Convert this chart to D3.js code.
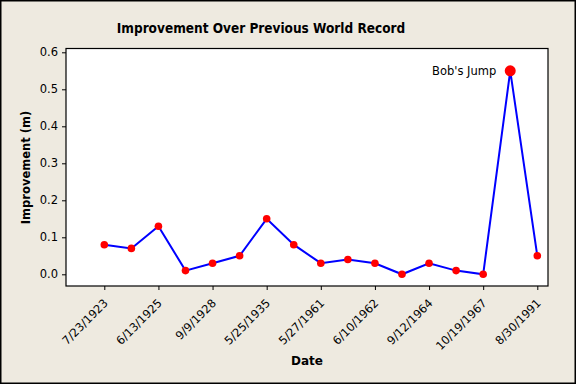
<!DOCTYPE html>
<html>
<head>
<meta charset="utf-8">
<script src="https://cdn.jsdelivr.net/npm/d3@7"></script>
<style>
body { margin: 0; background: #eeeae0; }
svg { display: block; }
</style>
</head>
<body>
<div id="chart"></div>
<script>
var width = 576
var height = 384

// data
var dates = ["7/23/1923","","6/13/1925","","9/9/1928","","5/25/1935","","5/27/1961","",
             "6/10/1962","","9/12/1964","","10/19/1967","","8/30/1991"]
var improvement = [0.08, 0.07, 0.13, 0.01, 0.03, 0.05, 0.15, 0.08, 0.03, 0.04,
                   0.03, 0.00, 0.03, 0.01, 0.00, 0.55, 0.05]
var yTicks = [0.0, 0.1, 0.2, 0.3, 0.4, 0.5, 0.6]
var highlightIndex = 15
var highlightLabel = "Bob's Jump"

var plot = {left: 66, top: 48.5, right: 548, bottom: 286}
var font = "Tahoma, 'DejaVu Sans', Verdana, sans-serif"
var boldFont = "'DejaVu Sans Condensed', Tahoma, 'DejaVu Sans', sans-serif"

var x = d3.scalePoint()
    .domain(d3.range(improvement.length))
    .range([104.3, 537.3])
var y = d3.scaleLinear()
    .domain([0, 0.6])
    .range([274.3, 52.3])

var svg = d3.select("#chart").append("svg")
    .attr("width", width).attr("height", height)

svg.append("rect")
    .attr("x", 0.75).attr("y", 0.75)
    .attr("width", width - 1.5).attr("height", height - 1.5)
    .attr("fill", "#eeeae0")
    .attr("stroke", "black")
    .attr("stroke-width", 1.5)

svg.append("rect")
    .attr("x", plot.left).attr("y", plot.top)
    .attr("width", plot.right - plot.left).attr("height", plot.bottom - plot.top)
    .attr("fill", "white")
    .attr("stroke", "black")
    .attr("stroke-width", 1.2)

// x axis: ticks at every other point
var bAxis = d3.axisBottom(x)
    .tickValues(d3.range(0, improvement.length, 2))
    .tickFormat(function(i) { return dates[i] })
    .tickSize(4).tickSizeOuter(0)
var gx = svg.append("g")
    .attr("transform", "translate(0," + plot.bottom + ")")
    .call(bAxis)
gx.select(".domain").remove()
gx.selectAll("line").attr("stroke", "black")
gx.selectAll("text")
    .attr("font-family", font)
    .attr("font-size", "11.5px")
    .attr("fill", "black")
    .attr("text-anchor", "end")
    .attr("dy", "0.35em")
    .attr("transform", "translate(1,15) rotate(-45)")
    .attr("x", 0).attr("y", 0)

// y axis
var lAxis = d3.axisLeft(y)
    .tickValues(yTicks)
    .tickFormat(d3.format(".1f"))
    .tickSize(4).tickSizeOuter(0)
var gy = svg.append("g")
    .attr("transform", "translate(" + plot.left + ",0)")
    .call(lAxis)
gy.select(".domain").remove()
gy.selectAll("line").attr("stroke", "black")
gy.selectAll("text")
    .attr("font-family", font)
    .attr("font-size", "11.5px")
    .attr("fill", "black")
    .attr("x", -8)

var line = d3.line()
    .x(function(d, i) { return x(i) })
    .y(function(d) { return y(d) })

svg.append("path")
    .datum(improvement)
    .attr("d", line)
    .attr("fill", "none")
    .attr("stroke", "#0000ff")
    .attr("stroke-width", 2)

svg.selectAll("circle")
    .data(improvement)
    .enter()
    .append("circle")
    .attr("cx", function(d, i) { return x(i) })
    .attr("cy", function(d) { return y(d) })
    .attr("r", function(d, i) { return i == highlightIndex ? 5.5 : 3.8 })
    .style("fill", "#ff0000")

svg.append("text")
    .attr("x", x(highlightIndex) - 14)
    .attr("y", y(improvement[highlightIndex]))
    .attr("dy", "0.35em")
    .attr("text-anchor", "end")
    .attr("font-family", font)
    .attr("font-size", "11.5px")
    .text(highlightLabel)

svg.append("text")
    .attr("x", 261)
    .attr("y", 33)
    .attr("text-anchor", "middle")
    .attr("font-family", boldFont)
    .attr("font-weight", "bold")
    .attr("font-size", "13.5px")
    .text("Improvement Over Previous World Record")

svg.append("text")
    .attr("x", 307)
    .attr("y", 365)
    .attr("text-anchor", "middle")
    .attr("font-family", font)
    .attr("font-weight", "bold")
    .attr("font-size", "12px")
    .text("Date")

svg.append("text")
    .attr("transform", "translate(30,167.5) rotate(-90)")
    .attr("text-anchor", "middle")
    .attr("font-family", font)
    .attr("font-weight", "bold")
    .attr("font-size", "11.5px")
    .text("Improvement (m)")
</script>
</body>
</html>
